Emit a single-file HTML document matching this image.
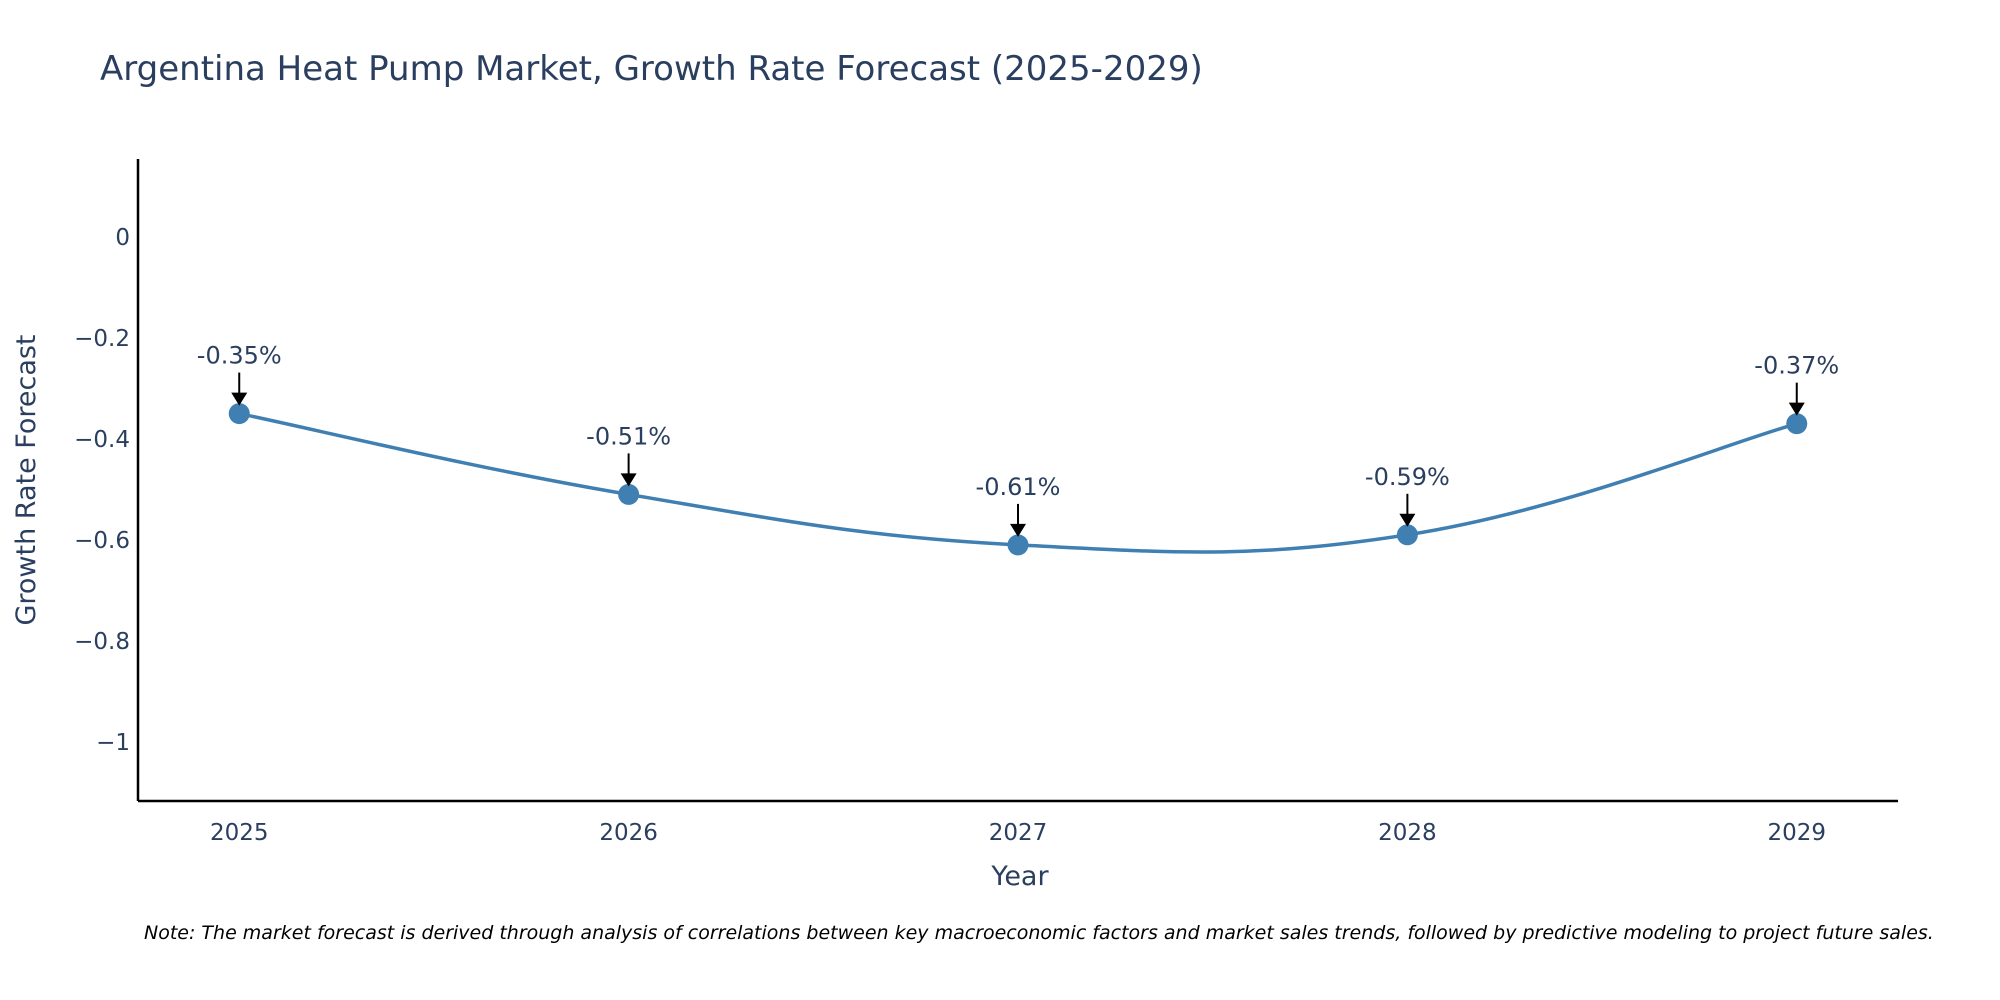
<!DOCTYPE html>
<html><head><meta charset="utf-8"><style>
html,body{margin:0;padding:0;background:#fff;width:2000px;height:1000px;overflow:hidden}
svg{display:block;font-family:"DejaVu Sans","Liberation Sans",sans-serif}
</style></head><body>
<svg id="chart" width="2000" height="1000" xmlns="http://www.w3.org/2000/svg">
<text x="100" y="80" font-size="34" fill="#2a3f5f">Argentina Heat Pump Market, Growth Rate Forecast (2025-2029)</text>
<g id="axes"></g>
<g id="marks"></g>
<text transform="translate(35,480) rotate(-90)" text-anchor="middle" font-size="27" fill="#2a3f5f">Growth Rate Forecast</text>
<text x="1020" y="885" text-anchor="middle" font-size="27" fill="#2a3f5f">Year</text>
<text x="144" y="939" font-size="19" font-style="italic" fill="#000">Note: The market forecast is derived through analysis of correlations between key macroeconomic factors and market sales trends, followed by predictive modeling to project future sales.</text>
</svg>
<script>
const years = [2025, 2026, 2027, 2028, 2029];
const growth = [-0.35, -0.51, -0.61, -0.59, -0.37];
const labels = ["-0.35%", "-0.51%", "-0.61%", "-0.59%", "-0.37%"];
const yTicks = [0, -0.2, -0.4, -0.6, -0.8, -1];
const yTickLabels = ["0", "\u22120.2", "\u22120.4", "\u22120.6", "\u22120.8", "\u22121"];

const NS = "http://www.w3.org/2000/svg";
const L = 138, R = 1898, T = 159, B = 801;
const xMin = 2024.74, xMax = 2029.26, yMin = -1.117, yMax = 0.154;
const xs = v => L + (v - xMin) / (xMax - xMin) * (R - L);
const ys = v => B - (v - yMin) / (yMax - yMin) * (B - T);
function mk(tag, attrs, parent) {
  const e = document.createElementNS(NS, tag);
  for (const k in attrs) e.setAttribute(k, attrs[k]);
  parent.appendChild(e); return e;
}
const axes = document.getElementById("axes"), marks = document.getElementById("marks");
const yAxis = mk("line", {x1: L, y1: T, x2: L, y2: B, stroke: "#000", "stroke-width": 2.5}, axes);


const xAxis = mk("line", {x1: L, y1: B, x2: R, y2: B, stroke: "#000", "stroke-width": 2.5}, axes);


yTicks.forEach((t, i) => {
  const tx = mk("text", {x: L - 8, y: ys(t) + 8, "text-anchor": "end", "font-size": 23, fill: "#2a3f5f"}, axes);
  
  
  tx.textContent = yTickLabels[i];
});
years.forEach(y => {
  const tx = mk("text", {x: xs(y), y: B + 39, "text-anchor": "middle", "font-size": 23, fill: "#2a3f5f"}, axes);
  
  
  tx.textContent = String(y);
});
const pts = years.map((y, i) => [xs(y), ys(growth[i])]);
let d = "M" + pts[0][0] + "," + pts[0][1];
const k = 0.2;
for (let i = 0; i < pts.length - 1; i++) {
  const p0 = pts[Math.max(i - 1, 0)], p1 = pts[i], p2 = pts[i + 1], p3 = pts[Math.min(i + 2, pts.length - 1)];
  const c1 = [p1[0] + (p2[0] - p0[0]) * k, p1[1] + (p2[1] - p0[1]) * k];
  const c2 = [p2[0] - (p3[0] - p1[0]) * k, p2[1] - (p3[1] - p1[1]) * k];
  d += ` C${c1[0]},${c1[1]} ${c2[0]},${c2[1]} ${p2[0]},${p2[1]}`;
}
const line = mk("path", {d: d, fill: "none", stroke: "#3f7fb2", "stroke-width": 3.5}, marks);


pts.forEach((p, i) => {
  const c = mk("circle", {cx: p[0], cy: p[1], r: 10.5, fill: "#3f7fb2"}, marks);
  
  
  const a = mk("line", {x1: p[0], y1: p[1] - 41, x2: p[0], y2: p[1] - 20, stroke: "#000", "stroke-width": 2}, marks);
  
  
  const h = mk("polygon", {points: `${p[0]-8},${p[1]-21} ${p[0]+8},${p[1]-21} ${p[0]},${p[1]-8}`, fill: "#000"}, marks);
  
  
  const t = mk("text", {x: p[0], y: p[1] - 50, "text-anchor": "middle", "font-size": 24, fill: "#2a3f5f"}, marks);
  
  
  t.textContent = labels[i];
});
</script>
</body></html>
